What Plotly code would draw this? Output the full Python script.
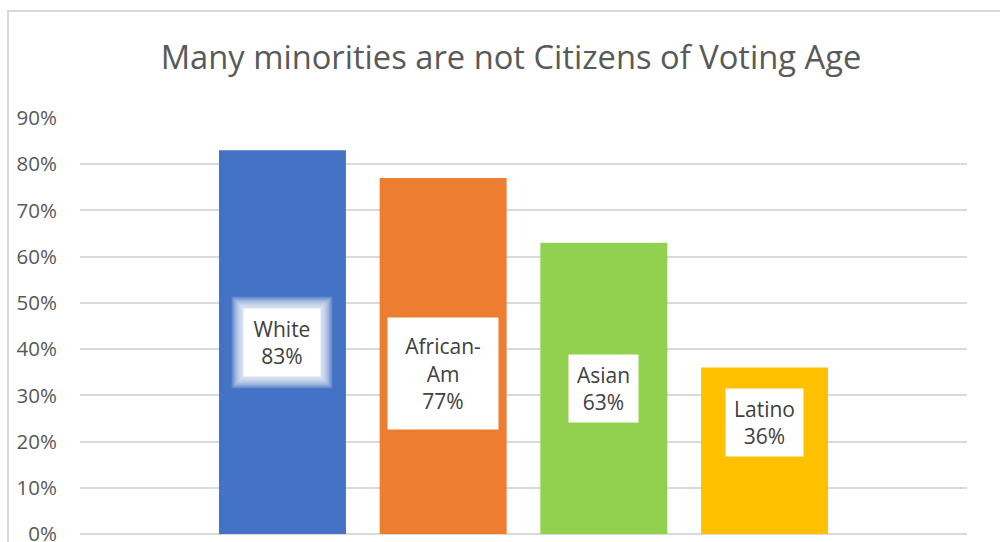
import plotly.graph_objects as go

# Share of each group that are citizens of voting age (%)
groups = ["White", "African-Am", "Asian", "Latino"]
values = [83, 77, 63, 36]
bar_colors = ["#4472C4", "#ED7D31", "#92D050", "#FFC000"]

# Label box placement (y centre, in % units) and box size (px)
label_y = [41.5, 34.7, 31.5, 24.1]
label_w = [76, 110, 69, 77]
label_h = [67, 111, 67, 67]

y_ticks = list(range(0, 100, 10))

GRID = "#D9D9D9"
TEXT = "#595959"
FONT = "Open Sans"

fig = go.Figure(
    go.Bar(
        x=groups,
        y=values,
        marker=dict(color=bar_colors, line=dict(width=0)),
        hoverinfo="skip",
    )
)

annotations = []
# soft white glow around the first label, built from thin translucent rings
for grow in range(12, 0, -1):
    annotations.append(dict(
        x=groups[0], y=label_y[0], xref="x", yref="y",
        text=" ", showarrow=False,
        width=label_w[0] + 2 * grow, height=label_h[0] + 2 * grow,
        bgcolor="rgba(255,255,255,0.13)", borderpad=0,
        xanchor="center", yanchor="middle",
        font=dict(size=4),
    ))

for g, v, ly, w, h in zip(groups, values, label_y, label_w, label_h):
    annotations.append(dict(
        x=g, y=ly, xref="x", yref="y",
        text=g.replace("-", "-<br>") + f"<br>{v}%",
        showarrow=False, align="center",
        width=w, height=h, borderpad=0,
        bgcolor="#FFFFFF",
        xanchor="center", yanchor="middle",
        font=dict(family=FONT, size=21, color="#404040"),
    ))

fig.update_layout(
    width=1000, height=542,
    margin=dict(l=80, r=33, t=118, b=8, autoexpand=False),
    paper_bgcolor="#FFFFFF", plot_bgcolor="#FFFFFF",
    bargap=0.21,
    showlegend=False,
    title=dict(
        text="Many minorities are not Citizens of Voting Age",
        x=0.511, xanchor="center", xref="container",
        y=1 - 58 / 542, yanchor="middle", yref="container",
        font=dict(family=FONT, size=32.7, color=TEXT),
    ),
    xaxis=dict(
        range=[-1.26, 4.26],
        showticklabels=False, showgrid=False, zeroline=False,
        showline=False, ticks="", automargin=False,
    ),
    yaxis=dict(
        range=[0, 90],
        tickvals=y_ticks,
        ticktext=[f"{t}%" for t in y_ticks],
        showgrid=True, gridcolor=GRID, gridwidth=1.5,
        zeroline=True, zerolinecolor=GRID, zerolinewidth=1.5,
        showline=False, ticks="",
        ticklabelstandoff=22,
        ticklabeloverflow="allow",
        automargin=False,
        tickfont=dict(family=FONT, size=20.5, color=TEXT),
    ),
    annotations=annotations,
    shapes=[dict(
        type="rect", xref="paper", yref="paper",
        x0=(8 - 80) / 887, x1=(1010 - 80) / 887,
        y0=(534 - 560) / 416, y1=(534 - 11) / 416,
        line=dict(color=GRID, width=2), fillcolor="rgba(0,0,0,0)",
        layer="below",
    )],
)

fig.write_html("out.html")
